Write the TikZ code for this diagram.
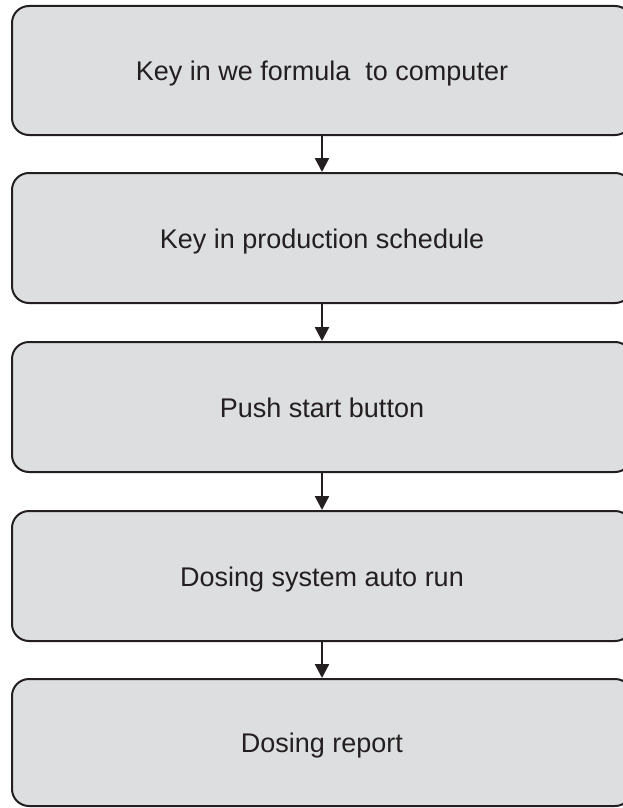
\documentclass[tikz,border=0pt]{standalone}
\usepackage{fontspec}
\setmainfont{Liberation Sans}
\usetikzlibrary{arrows.meta}
\definecolor{boxfill}{HTML}{DDDEE0}
\definecolor{boxline}{HTML}{231F20}
\begin{document}
\begin{tikzpicture}[x=1pt,y=-1pt,
  stepbox/.style={draw=boxline, fill=boxfill, line width=2pt, rounded corners=17pt,
    minimum width=620pt, inner sep=0pt, text height=25pt, text depth=5pt,
    font=\fontsize{27}{31}\selectfont, text=boxline},
  flow/.style={draw=boxline, line width=2.4pt, -{Triangle[width=14pt,length=14pt]}}]
  \useasboundingbox (0,0) rectangle (623,808);
  \begin{scope}
    \clip (0,0) rectangle (623,808);
    \node[stepbox, minimum height=129pt] (s1) at (322,70.5) {Key in we formula \ to computer};
    \node[stepbox, minimum height=130pt] (s2) at (322,238) {Key in production schedule};
    \node[stepbox, minimum height=130pt] (s3) at (322,407) {Push start button};
    \node[stepbox, minimum height=130pt] (s4) at (322,576) {Dosing system auto run};
    \node[stepbox, minimum height=127pt] (s5) at (322,742.5) {Dosing report};
  \end{scope}
  \draw[flow] (s1.south) -- (s2.north);
  \draw[flow] (s2.south) -- (s3.north);
  \draw[flow] (s3.south) -- (s4.north);
  \draw[flow] (s4.south) -- (s5.north);
\end{tikzpicture}
\end{document}
